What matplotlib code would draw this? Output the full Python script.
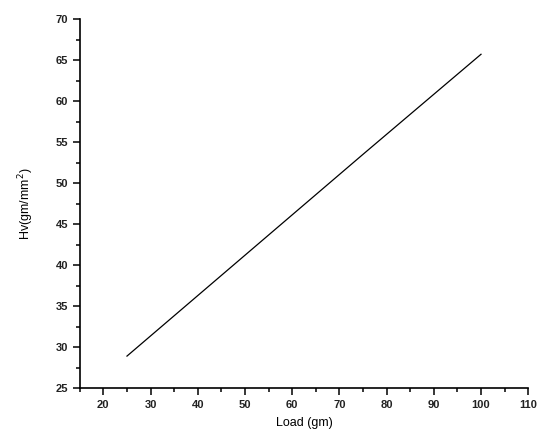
import matplotlib
matplotlib.use("Agg")
import matplotlib.pyplot as plt
from matplotlib.ticker import MultipleLocator

load = [25, 50, 75, 100]
hv = [28.9, 41.2, 53.5, 65.7]

plt.rcParams['font.family'] = ['Liberation Sans', 'DejaVu Sans']
fig = plt.figure(figsize=(5.39, 4.42), dpi=100)
ax = fig.add_axes([0.148, 0.122, 0.832, 0.835])
ax.plot(load, hv, color='black', lw=0.9)
ax.xaxis.set_major_locator(MultipleLocator(10))
ax.xaxis.set_minor_locator(MultipleLocator(5))
ax.yaxis.set_major_locator(MultipleLocator(5))
ax.yaxis.set_minor_locator(MultipleLocator(2.5))
ax.spines['top'].set_visible(False)
ax.spines['right'].set_visible(False)
for s in ('left', 'bottom'):
    ax.spines[s].set_linewidth(1.2)
ax.tick_params(which='major', direction='out', length=5, width=1.1, labelsize=8)
ax.tick_params(which='minor', direction='out', length=3, width=1.1)
ax.set_xticks(range(20, 111, 10))
ax.set_xlim(15, 110)
ax.set_ylim(25, 70)
for lab in ax.get_xticklabels() + ax.get_yticklabels():
    lab.set_fontweight('bold')
    lab.set_color('#222222')
ax.set_xlabel('Load (gm)', fontsize=9, labelpad=5)
ax.set_ylabel('Hv(gm/mm$^2$)', fontsize=9, labelpad=14)
fig.savefig('out.png', dpi=100)
